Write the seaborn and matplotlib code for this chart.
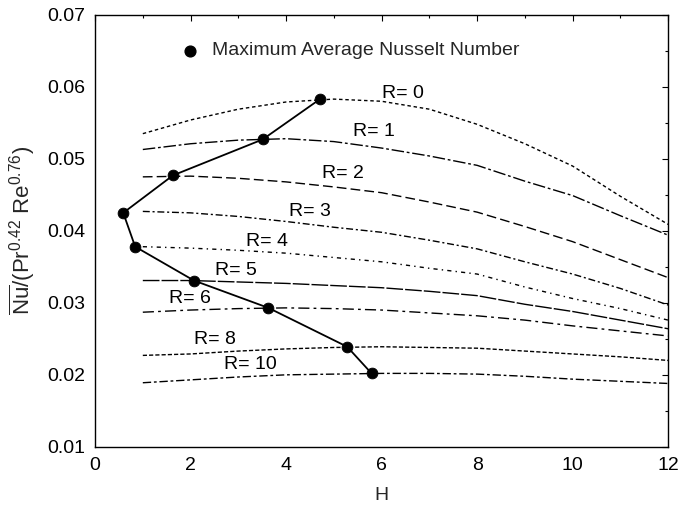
import matplotlib
matplotlib.use("Agg")
import matplotlib.pyplot as plt
from matplotlib.ticker import MultipleLocator
import seaborn as sns
import pandas as pd

# Average Nusselt number curves, one per R, over the spacing H
H = [1, 2, 3, 4, 5, 6, 7, 8, 9, 10, 11, 12]
nu_R0 = [0.0535, 0.0554, 0.0569, 0.0579, 0.0583, 0.0580, 0.0569, 0.0548, 0.0521, 0.0490, 0.0448, 0.0409]
nu_R1 = [0.0513, 0.0521, 0.0526, 0.0528, 0.0524, 0.0515, 0.0504, 0.0491, 0.0469, 0.0449, 0.0421, 0.0394]
nu_R2 = [0.0475, 0.0476, 0.0473, 0.0468, 0.0461, 0.0453, 0.0440, 0.0426, 0.0406, 0.0385, 0.0360, 0.0335]
nu_R3 = [0.0427, 0.0425, 0.0420, 0.0413, 0.0405, 0.0398, 0.0387, 0.0375, 0.0357, 0.0340, 0.0320, 0.0297]
nu_R4 = [0.0378, 0.0376, 0.0373, 0.0369, 0.0363, 0.0357, 0.0348, 0.0340, 0.0322, 0.0306, 0.0292, 0.0276]
nu_R5 = [0.0331, 0.0331, 0.0329, 0.0327, 0.0324, 0.0321, 0.0316, 0.0310, 0.0298, 0.0288, 0.0276, 0.0264]
nu_R6 = [0.0287, 0.0290, 0.0292, 0.0293, 0.0292, 0.0290, 0.0286, 0.0282, 0.0276, 0.0268, 0.0261, 0.0254]
nu_R8 = [0.0227, 0.0229, 0.0233, 0.0236, 0.0238, 0.0239, 0.0238, 0.0237, 0.0233, 0.0229, 0.0225, 0.0220]
nu_R10 = [0.0189, 0.0193, 0.0197, 0.0200, 0.0201, 0.0202, 0.0202, 0.0201, 0.0198, 0.0194, 0.0191, 0.0188]

R_values = [0, 1, 2, 3, 4, 5, 6, 8, 10]
curves = [nu_R0, nu_R1, nu_R2, nu_R3, nu_R4, nu_R5, nu_R6, nu_R8, nu_R10]

# Location of the maximum average Nusselt number for each R
H_max = [4.71, 3.51, 1.63, 0.59, 0.84, 2.07, 3.63, 5.28, 5.79]
nu_max = [0.0583, 0.0527, 0.0477, 0.0425, 0.0378, 0.0331, 0.0293, 0.0239, 0.0202]

curve_labels = ["R= 0", "R= 1", "R= 2", "R= 3", "R= 4", "R= 5", "R= 6", "R= 8", "R= 10"]
label_pos = [(6.45, 0.0591), (5.85, 0.0538), (5.18, 0.0479), (4.5, 0.0427), (3.6, 0.0385),
             (2.95, 0.0345), (1.99, 0.0306), (2.51, 0.0249), (3.25, 0.0215)]

sns.set_theme(style="white")
plt.rcParams["font.family"] = ["Liberation Sans", "DejaVu Sans"]
plt.rcParams["mathtext.fontset"] = "custom"
plt.rcParams["mathtext.rm"] = "Liberation Sans"
plt.rcParams["mathtext.it"] = "Liberation Sans"

rows = []
for r, vals in zip(R_values, curves):
    for h, v in zip(H, vals):
        rows.append({"H": h, "Nu": v, "R": f"R{r}"})
df = pd.DataFrame(rows)

dash_styles = {
    "R0": (2.5, 2),
    "R1": (9, 2, 2, 2),
    "R2": (7, 3),
    "R3": (5, 2, 1.5, 2),
    "R4": (3, 3, 1, 3),
    "R5": (12, 1.5),
    "R6": (8, 3, 2, 3),
    "R8": (3, 1.5),
    "R10": (6, 2, 2, 2),
}

fig = plt.figure(figsize=(6.79, 5.13), dpi=100)
ax = fig.add_axes([0.140, 0.129, 0.844, 0.842])

sns.lineplot(data=df, x="H", y="Nu", hue="R", style="R", dashes=dash_styles,
             palette=["black"] * len(R_values), linewidth=1.0, legend=False, ax=ax)

max_df = pd.DataFrame({"H": H_max, "Nu": nu_max})
sns.lineplot(data=max_df, x="H", y="Nu", sort=False, color="black", linewidth=1.3,
             ax=ax, legend=False)
sns.scatterplot(data=max_df, x="H", y="Nu", color="black", s=60, edgecolor="black",
                zorder=5, ax=ax, legend=False)

for text, (x, y) in zip(curve_labels, label_pos):
    ax.text(x, y, text, fontsize=14, ha="center", va="center", color="black")

# Marker legend
ax.scatter([1.99], [0.0650], s=60, color="black", zorder=5)
ax.text(2.45, 0.0650, "Maximum Average Nusselt Number", fontsize=14, va="center", ha="left")

ax.set_xlim(0, 12)
ax.set_ylim(0.01, 0.07)
ax.xaxis.set_major_locator(MultipleLocator(2))
ax.xaxis.set_minor_locator(MultipleLocator(1))
ax.yaxis.set_major_locator(MultipleLocator(0.01))
ax.yaxis.set_minor_locator(MultipleLocator(0.005))
ax.set_xticklabels([f"{int(v)}" for v in ax.get_xticks()])
ax.set_yticklabels([f"{v:.2f}" for v in ax.get_yticks()])
ax.tick_params(which="both", direction="in", top=True, right=True, colors="black",
               labelsize=14)
ax.tick_params(which="major", length=4, width=0.8, pad=7)
ax.tick_params(which="minor", length=2, width=0.8)
for s in ax.spines.values():
    s.set_color("black")
    s.set_linewidth(1.0)

ax.set_xlabel("H", fontsize=14, labelpad=10)
ax.set_ylabel(r"$\overline{\mathrm{Nu}}/(\mathrm{Pr}^{0.42}\ \mathrm{Re}^{0.76})$", fontsize=16,
              labelpad=7)

fig.savefig("out.png", dpi=100)
